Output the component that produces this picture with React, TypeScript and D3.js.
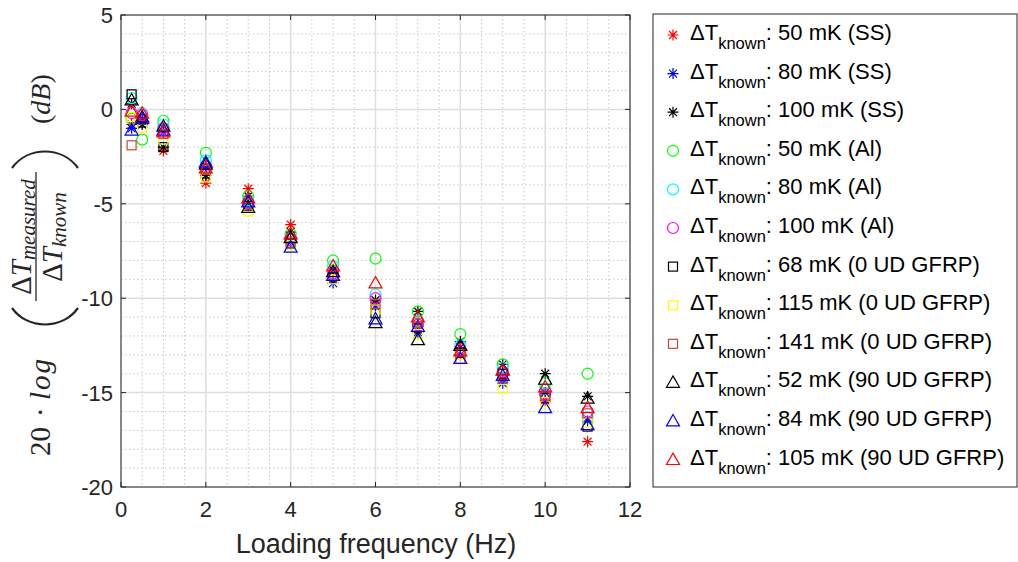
import React from "react";
import * as d3 from "d3";

const FREQ = [0.25, 0.5, 1, 2, 3, 4, 5, 6, 7, 8, 9, 10, 11];

const SS50 = [-0.8, -0.6, -2.2, -3.9, -4.2, -6.1, -8.6, -10.2, -11.5, -13.0, -14.3, -15.4, -17.6];
const SS80 = [-1.0, -0.5, -1.2, -3.0, -5.0, -7.0, -9.2, -10.4, -11.8, -12.6, -14.5, -15.0, -16.5];
const SS100 = [0.3, -0.8, -2.0, -3.5, -4.6, -6.5, -8.5, -10.1, -10.7, -12.3, -13.5, -14.0, -15.2];
const AL50 = [-0.5, -1.6, -0.6, -2.3, -4.6, -6.6, -8.0, -7.9, -10.7, -11.9, -13.5, -14.5, -14.0];
const AL80 = [0.6, -0.2, -0.8, -2.7, -4.8, -6.8, -8.3, -9.8, -11.2, -12.5, -13.7, -14.8, -16.3];
const AL100 = [-0.2, -0.3, -1.0, -3.0, -5.0, -6.9, -8.7, -10.0, -11.4, -12.7, -13.9, -15.1, -16.0];
const GF0_68 = [0.8, -0.7, -2.0, -3.4, -5.1, -7.1, -8.9, -10.8, -11.6, -12.9, -14.0, -15.3, -16.8];
const GF0_115 = [-0.4, -1.0, -1.6, -3.6, -5.4, -7.2, -9.0, -10.6, -11.9, -13.0, -14.8, -15.5, -16.6];
const GF0_141 = [-1.9, -0.5, -1.3, -3.2, -5.0, -7.0, -8.8, -10.3, -11.3, -13.2, -14.2, -15.2, -16.1];
const GF90_52 = [0.5, -0.4, -0.9, -2.9, -5.2, -6.8, -8.6, -11.3, -12.2, -12.5, -13.8, -14.3, -15.3];
const GF90_84 = [-1.1, -0.5, -1.1, -2.8, -4.9, -7.3, -8.8, -11.1, -11.5, -13.2, -14.1, -15.8, -16.7];
const GF90_105 = [-0.1, -0.2, -1.2, -3.1, -4.7, -6.6, -8.3, -9.2, -11.0, -12.8, -13.8, -14.7, -15.8];

const SERIES_LABELS = [
  ": 50 mK (SS)",
  ": 80 mK (SS)",
  ": 100 mK (SS)",
  ": 50 mK (Al)",
  ": 80 mK (Al)",
  ": 100 mK (Al)",
  ": 68 mK (0 UD GFRP)",
  ": 115 mK (0 UD GFRP)",
  ": 141 mK (0 UD GFRP)",
  ": 52 mK (90 UD GFRP)",
  ": 84 mK (90 UD GFRP)",
  ": 105 mK (90 UD GFRP)",
];
const SERIES_VALUES = [SS50, SS80, SS100, AL50, AL80, AL100, GF0_68, GF0_115, GF0_141, GF90_52, GF90_84, GF90_105];
const SERIES_MARKERS = ["star", "star", "star", "circle", "circle", "circle", "square", "square", "square", "triangle", "triangle", "triangle"];
const SERIES_COLORS = ["#ff0000", "#0000ff", "#000000", "#00ff00", "#00ffff", "#ff00ff", "#000000", "#ffff00", "#c8463c", "#000000", "#0000ff", "#ff0000"];

const X_TICKS = [0, 2, 4, 6, 8, 10, 12];
const Y_TICKS = [-20, -15, -10, -5, 0, 5];

const L = 121, R = 630, T = 15, B = 487;
const FONT = "'Liberation Sans', Arial, Helvetica, sans-serif";
const SERIF = "'Liberation Serif', 'DejaVu Serif', serif";

function Marker({ type, x, y, color }: { type: string; x: number; y: number; color: string }) {
  const sw = 1.2;
  if (type === "star") {
    const r = 5.5, d = r * 0.72;
    return (
      <path
        d={`M${x - r},${y}L${x + r},${y}M${x},${y - r}L${x},${y + r}M${x - d},${y - d}L${x + d},${y + d}M${x - d},${y + d}L${x + d},${y - d}`}
        stroke={color}
        strokeWidth={sw}
        fill="none"
      />
    );
  }
  if (type === "circle") return <circle cx={x} cy={y} r={5.5} stroke={color} strokeWidth={sw} fill="none" />;
  if (type === "square") return <rect x={x - 4.5} y={y - 4.5} width={9} height={9} stroke={color} strokeWidth={sw} fill="none" />;
  const h = 6.5;
  return (
    <path
      d={`M${x},${y - h}L${x + h},${y + h * 0.75}L${x - h},${y + h * 0.75}Z`}
      stroke={color}
      strokeWidth={sw}
      fill="none"
    />
  );
}

export default function App() {
  const x = d3.scaleLinear().domain([0, 12]).range([L, R]);
  const y = d3.scaleLinear().domain([-20, 5]).range([B, T]);
  const xMinor = d3.range(0, 12.01, 0.5).filter((v) => v % 2 !== 0);
  const yMinor = d3.range(-20, 5.01, 1).filter((v) => v % 5 !== 0);

  const legendX = 653, legendY = 14, legendW = 364, legendH = 473;
  const entryY0 = 35, entryDy = 38.6;

  return (
    <svg width={1018} height={562} style={{ position: "absolute", left: 0, top: 0, background: "#fff" }}>
      <rect x={0} y={0} width={1018} height={562} fill="#fff" />
      {/* minor grid */}
      {xMinor.map((v) => (
        <line key={"xm" + v} x1={x(v)} x2={x(v)} y1={T} y2={B} stroke="#c8c8c8" strokeWidth={1} strokeDasharray="1.5,2.5" />
      ))}
      {yMinor.map((v) => (
        <line key={"ym" + v} x1={L} x2={R} y1={y(v)} y2={y(v)} stroke="#c8c8c8" strokeWidth={1} strokeDasharray="1.5,2.5" />
      ))}
      {/* major grid */}
      {X_TICKS.map((v) => (
        <line key={"xg" + v} x1={x(v)} x2={x(v)} y1={T} y2={B} stroke="#dedede" strokeWidth={1.5} />
      ))}
      {Y_TICKS.map((v) => (
        <line key={"yg" + v} x1={L} x2={R} y1={y(v)} y2={y(v)} stroke="#dedede" strokeWidth={1.5} />
      ))}
      {/* data */}
      {SERIES_VALUES.map((vals, si) => (
        <g key={"s" + si}>
          {vals.map((v, i) => (
            <Marker key={i} type={SERIES_MARKERS[si]} x={x(FREQ[i])} y={y(v)} color={SERIES_COLORS[si]} />
          ))}
        </g>
      ))}
      {/* axes box */}
      <rect x={L} y={T} width={R - L} height={B - T} fill="none" stroke="#262626" strokeWidth={1} />
      {X_TICKS.map((v) => (
        <g key={"xt" + v}>
          <line x1={x(v)} x2={x(v)} y1={B} y2={B - 5} stroke="#262626" />
          <line x1={x(v)} x2={x(v)} y1={T} y2={T + 5} stroke="#262626" />
          <text x={x(v)} y={B + 30} textAnchor="middle" fontFamily={FONT} fontSize={22} fill="#262626">
            {v}
          </text>
        </g>
      ))}
      {Y_TICKS.map((v) => (
        <g key={"yt" + v}>
          <line x1={L} x2={L + 5} y1={y(v)} y2={y(v)} stroke="#262626" />
          <line x1={R} x2={R - 5} y1={y(v)} y2={y(v)} stroke="#262626" />
          <text x={L - 8} y={y(v) + 8} textAnchor="end" fontFamily={FONT} fontSize={22} fill="#262626">
            {v}
          </text>
        </g>
      ))}
      <text x={(L + R) / 2 + 0.5} y={553} textAnchor="middle" fontFamily={FONT} fontSize={27} fill="#262626">
        Loading frequency (Hz)
      </text>
      {/* y label */}
      <g transform="translate(50, 460) rotate(-90)" fill="#262626" fontFamily={SERIF}>
        <text x={4} y={0} fontSize={29}>
          20
        </text>
        <text x={43} y={0} fontSize={29}>
          ·
        </text>
        <text x={60} y={0} fontSize={29} fontStyle="italic" letterSpacing={2}>
          log
        </text>
        <path d="M 152,-38 C 130,-22 130,12 152,28" fill="none" stroke="#262626" strokeWidth={2.2} />
        <text x={223} y={-19} textAnchor="middle" fontSize={29} fontStyle="italic">
          <tspan fontStyle="normal">Δ</tspan>T<tspan fontSize={21} dy={4}>measured</tspan>
        </text>
        <line x1={159} x2={288} y1={-14} y2={-14} stroke="#262626" strokeWidth={1.3} />
        <text x={223} y={12} textAnchor="middle" fontSize={29} fontStyle="italic">
          <tspan fontStyle="normal">Δ</tspan>T<tspan fontSize={21} dy={4}>known</tspan>
        </text>
        <path d="M 292,-38 C 314,-22 314,12 292,28" fill="none" stroke="#262626" strokeWidth={2.2} />
        <text x={336} y={0} fontSize={28}>
          (<tspan fontStyle="italic">dB</tspan>)
        </text>
      </g>
      {/* legend */}
      <rect x={legendX} y={legendY} width={legendW} height={legendH} fill="#fff" stroke="#262626" strokeWidth={1} />
      {SERIES_LABELS.map((lab, i) => {
        const cy = entryY0 + i * entryDy;
        return (
          <g key={"lg" + i}>
            <Marker type={SERIES_MARKERS[i]} x={673} y={cy} color={SERIES_COLORS[i]} />
            <text x={690} y={cy + 5} fontFamily={FONT} fontSize={22} fill="#000">
              ΔT<tspan fontSize={16.5} dy={9}>known</tspan>
              <tspan dy={-9}>{lab}</tspan>
            </text>
          </g>
        );
      })}
    </svg>
  );
}
